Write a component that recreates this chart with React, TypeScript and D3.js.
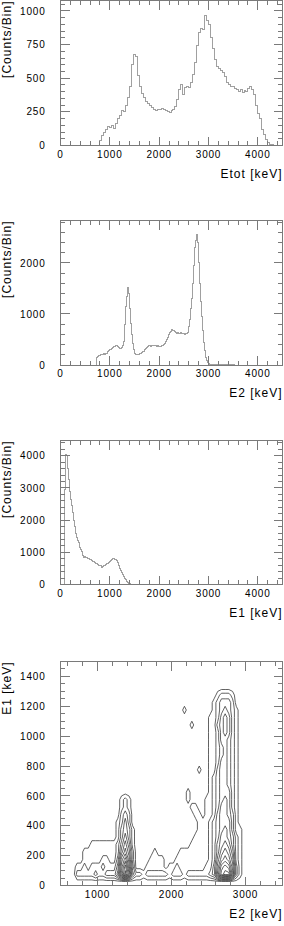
import React from "react";
import * as d3 from "d3";

const W = 284;
const H = 926;
const FONT = "'Liberation Sans', Arial, Helvetica, sans-serif";
const LEFT = 60.5;
const RIGHT = 282.5;

// Etot spectrum, 40 keV bins from 800 keV
const etotStart = 800;
const etotBin = 40;
const etotCounts = [
  40, 75, 100, 120, 140, 135, 145, 130, 160, 200, 225, 260, 250, 300, 360, 440,
  600, 675, 660, 520, 440, 390, 360, 330, 310, 300, 280, 270, 260, 270, 265, 275,
  265, 260, 250, 245, 260, 265, 290, 340, 420, 450, 380, 430, 440, 430, 470, 530,
  620, 740, 840, 870, 860, 965, 930, 900, 800, 720, 640, 590, 570, 560, 545, 510,
  470, 455, 440, 435, 425, 420, 405, 420, 395, 410, 400, 425, 440, 420, 380, 300,
  240, 200, 120, 80, 45, 20, 8, 4, 3, 2, 1, 1,
];

// E2 spectrum, 20 keV bins from 720 keV
const e2Start = 720;
const e2Bin = 20;
const e2Counts = [
  150, 165, 170, 190, 195, 200, 210, 215, 220, 215, 230, 235, 260, 275, 295, 310,
  330, 350, 360, 370, 380, 375, 360, 340, 325, 330, 340, 380, 470, 800, 1150, 1350,
  1520, 1400, 1100, 820, 600, 420, 300, 230, 210, 205, 215, 210, 220, 225, 240, 255,
  270, 300, 330, 350, 365, 375, 380, 370, 380, 385, 375, 390, 380, 370, 375, 360,
  355, 365, 380, 390, 400, 430, 460, 500, 540, 590, 630, 660, 680, 690, 685, 670,
  650, 635, 625, 640, 620, 615, 630, 620, 610, 615, 605, 610, 620, 640, 750, 900,
  1100, 1300, 1600, 1950, 2300, 2450, 2550, 2400, 2000, 1600, 1250, 950, 680, 450, 280, 150,
  80, 40, 25, 18, 15, 14, 12, 12, 10, 10, 9, 8, 8, 7, 7, 6,
  6, 5, 5, 5, 4, 4, 4, 3, 3, 3, 2, 2,
];

// E1 spectrum, 20 keV bins from 80 keV
const e1Start = 80;
const e1Bin = 20;
const e1Counts = [
  2950, 4050, 4000, 3600, 3250, 2900, 2650, 2450, 2250, 2000, 1800, 1580, 1450, 1380, 1320, 1150,
  1080, 1040, 900, 850, 860, 840, 840, 820, 800, 790, 780, 740, 720, 700, 680, 650,
  640, 630, 620, 600, 590, 580, 520, 560, 580, 600, 620, 640, 660, 690, 710, 740,
  780, 800, 810, 790, 780, 740, 680, 600, 510, 450, 380, 300, 250, 190, 140, 100,
  70, 45, 25, 10, 5, 2,
];

const histTicksX = [0, 1000, 2000, 3000, 4000];
const etotTicksY = [0, 250, 500, 750, 1000];
const e2TicksY = [0, 1000, 2000];
const e1TicksY = [0, 1000, 2000, 3000, 4000];
const mapTicksX = [1000, 2000, 3000];
const mapTicksY = [0, 200, 400, 600, 800, 1000, 1200, 1400];

// E1 vs E2 density, 50 keV cells. Columns: E2 from 650 keV, rows: E1 from 0 keV (bottom row first).
const gridE2Start = 650;
const gridE1Start = 0;
const gridStep = 50;
const densityRows = [
  "000000000000" + "000000000000" + "000000000000" + "000000000000",
  "022222322333" + "59c942212222" + "221222122222" + "2348bcc83100",
  "011212223222" + "48b730001111" + "101121111111" + "2247aba73100",
  "000111112211" + "379620000111" + "100011111111" + "123689862100",
  "000111111111" + "257520000010" + "000001111111" + "123578752100",
  "000001111111" + "246410000000" + "000000001111" + "123567642100",
  "000000000000" + "135310000000" + "000000000111" + "123466542100",
  "000000000000" + "134310000000" + "000000000011" + "123456531100",
  "000000000000" + "124200000000" + "000000000011" + "123455531000",
  "000000000000" + "023200000000" + "000000000110" + "112455431000",
  "000000000000" + "012100000000" + "000000001100" + "112355421000",
  "000000000000" + "012100000000" + "000000010000" + "112345421000",
  "000000000000" + "000000000000" + "000000010000" + "012344421000",
  "000000000000" + "000000000000" + "000000000000" + "012344321000",
  "000000000000" + "000000000000" + "000000000000" + "012344321000",
  "000000000000" + "000000000000" + "000000000010" + "011344321000",
  "000000000000" + "000000000000" + "000000000000" + "011244321000",
  "000000000000" + "000000000000" + "000000000000" + "011234321000",
  "000000000000" + "000000000000" + "000000000000" + "011234321000",
  "000000000000" + "000000000000" + "000000000000" + "011244321000",
  "000000000000" + "000000000000" + "000000000000" + "011245421000",
  "000000000000" + "000000000000" + "000000001000" + "011345421000",
  "000000000000" + "000000000000" + "000000000000" + "011245421000",
  "000000000000" + "000000000000" + "000000100000" + "001234321000",
  "000000000000" + "000000000000" + "000000000000" + "001233320000",
  "000000000000" + "000000000000" + "000000000000" + "000122210000",
  "000000000000" + "000000000000" + "000000000000" + "000000000000",
  "000000000000" + "000000000000" + "000000000000" + "000000000000",
];
const contourLevels = [0.5, 1.5, 2.5, 3.5, 4.5, 5.5, 6.5, 7.5, 8.5, 9.5, 10.5, 11.5];

type Axis = { domain: [number, number]; major: number[]; minor: number };

function Frame(props: {
  top: number;
  bottom: number;
  xAxis: Axis;
  yAxis: Axis;
  xTitle: string;
  yTitle: string;
  children?: React.ReactNode;
}) {
  const { top, bottom, xAxis, yAxis, xTitle, yTitle } = props;
  const x = d3.scaleLinear().domain(xAxis.domain).range([LEFT, RIGHT]);
  const y = d3.scaleLinear().domain(yAxis.domain).range([bottom, top]);
  const xMinor = d3.range(Math.ceil(xAxis.domain[0] / xAxis.minor) * xAxis.minor, xAxis.domain[1] + 1e-6, xAxis.minor);
  const yMinor = d3.range(Math.ceil(yAxis.domain[0] / yAxis.minor) * yAxis.minor, yAxis.domain[1] + 1e-6, yAxis.minor);
  const isMajor = (v: number, list: number[]) => list.some(m => Math.abs(m - v) < 1e-6);
  const tx = 9, ty = 9;
  return (
    <g>
      {props.children}
      <g stroke="#7a7a7a" strokeWidth={1} fill="none" shapeRendering="crispEdges">
        <rect x={LEFT} y={top} width={RIGHT - LEFT} height={bottom - top} />
        {xMinor.map(v => {
          const len = isMajor(v, xAxis.major) ? tx : tx / 2;
          return (
            <g key={"x" + v}>
              <line x1={x(v)} x2={x(v)} y1={bottom} y2={bottom - len} />
              <line x1={x(v)} x2={x(v)} y1={top} y2={top + len} />
            </g>
          );
        })}
        {yMinor.map(v => {
          const len = isMajor(v, yAxis.major) ? ty : ty / 2;
          return (
            <g key={"y" + v}>
              <line x1={LEFT} x2={LEFT + len} y1={y(v)} y2={y(v)} />
              <line x1={RIGHT} x2={RIGHT - len} y1={y(v)} y2={y(v)} />
            </g>
          );
        })}
      </g>
      <g fontFamily={FONT} fontSize={10} fill="#000" letterSpacing={0.8}>
        {xAxis.major.map(v => (
          <text key={"xl" + v} x={x(v)} y={bottom + 12.4} textAnchor="middle">{v}</text>
        ))}
        {yAxis.major.map(v => (
          <text key={"yl" + v} x={45.5} y={y(v)} dy="0.36em" textAnchor="end">{v}</text>
        ))}
      </g>
      <g fontFamily={FONT} fontSize={12} fill="#000" letterSpacing={1}>
        <text x={RIGHT} y={bottom + 32.4} textAnchor="end">{xTitle}</text>
        <text transform={`translate(11,${top}) rotate(-90)`} textAnchor="end">{yTitle}</text>
      </g>
    </g>
  );
}

function histPath(counts: number[], start: number, bin: number, x: d3.ScaleLinear<number, number>, y: d3.ScaleLinear<number, number>, xMax: number) {
  const pts: [number, number][] = [[0, 0]];
  counts.forEach((c, i) => pts.push([start + i * bin, c]));
  pts.push([start + counts.length * bin, 0]);
  pts.push([xMax, 0]);
  const line = d3.line<[number, number]>()
    .x(d => x(d[0]))
    .y(d => y(d[1]))
    .curve(d3.curveStepAfter);
  return line(pts) || "";
}

function HistPanel(props: {
  top: number; bottom: number; yMax: number; yMajor: number[]; yMinor: number;
  counts: number[]; start: number; bin: number; xTitle: string;
}) {
  const xAxis: Axis = { domain: [0, 4500], major: histTicksX, minor: 200 };
  const yAxis: Axis = { domain: [0, props.yMax], major: props.yMajor, minor: props.yMinor };
  const x = d3.scaleLinear().domain(xAxis.domain).range([LEFT, RIGHT]);
  const y = d3.scaleLinear().domain(yAxis.domain).range([props.bottom, props.top]);
  return (
    <Frame top={props.top} bottom={props.bottom} xAxis={xAxis} yAxis={yAxis} xTitle={props.xTitle} yTitle="[Counts/Bin]">
      <path d={histPath(props.counts, props.start, props.bin, x, y, 4500)} fill="none" stroke="#a0a0a0" strokeWidth={1} shapeRendering="crispEdges" />
    </Frame>
  );
}

function ContourPanel(props: { top: number; bottom: number }) {
  const xAxis: Axis = { domain: [500, 3500], major: mapTicksX, minor: 200 };
  const yAxis: Axis = { domain: [0, 1500], major: mapTicksY, minor: 50 };
  const x = d3.scaleLinear().domain(xAxis.domain).range([LEFT, RIGHT]);
  const y = d3.scaleLinear().domain(yAxis.domain).range([props.bottom, props.top]);
  const nx = densityRows[0].length;
  const ny = densityRows.length;
  const values: number[] = [];
  densityRows.forEach(row => {
    for (const ch of row) values.push(parseInt(ch, 36));
  });
  const contours = d3.contours().size([nx, ny]).thresholds(contourLevels)(values);
  const path = d3.geoPath(
    d3.geoTransform({
      point(px: number, py: number) {
        this.stream.point(x(gridE2Start + px * gridStep), y(gridE1Start + py * gridStep));
      },
    })
  );
  return (
    <Frame top={props.top} bottom={props.bottom} xAxis={xAxis} yAxis={yAxis} xTitle="E2  [keV]" yTitle="E1 [keV]">
      <g fill="none" stroke="#3a3a3a" strokeWidth={0.8}>
        {contours.map((c, i) => (
          <path key={i} d={path(c as any) || ""} />
        ))}
      </g>
    </Frame>
  );
}

export default function App() {
  return (
    <svg width={W} height={H} style={{ position: "absolute", left: 0, top: 0, background: "#fff" }}>
      <HistPanel top={0.5} bottom={145.5} yMax={1078} yMajor={etotTicksY} yMinor={50}
        counts={etotCounts} start={etotStart} bin={etotBin} xTitle="Etot [keV]" />
      <HistPanel top={220.5} bottom={365} yMax={2833} yMajor={e2TicksY} yMinor={200}
        counts={e2Counts} start={e2Start} bin={e2Bin} xTitle="E2  [keV]" />
      <HistPanel top={440.5} bottom={584.5} yMax={4474} yMajor={e1TicksY} yMinor={200}
        counts={e1Counts} start={e1Start} bin={e1Bin} xTitle="E1  [keV]" />
      <ContourPanel top={661.5} bottom={885.5} />
    </svg>
  );
}
